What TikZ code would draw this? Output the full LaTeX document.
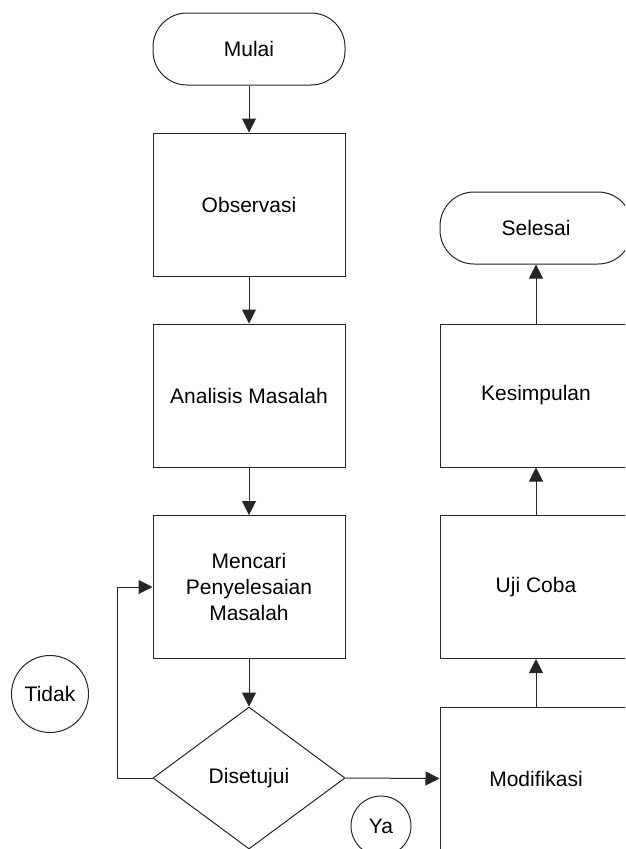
\documentclass[tikz,border=0pt]{standalone}
\usepackage{fontspec}
\setmainfont{Liberation Sans}
\usetikzlibrary{shapes.geometric,arrows.meta}
\begin{document}
\begin{tikzpicture}[x=1pt,y=-1pt,
  flow/.style={draw=black!85, line width=1pt},
  box/.style={flow, rectangle, minimum width=192pt, minimum height=143pt, inner sep=0pt, align=center},
  term/.style={flow, rectangle, rounded corners=34pt, minimum width=192pt, minimum height=72pt, inner sep=0pt},
  decision/.style={flow, diamond, minimum width=192pt, minimum height=142pt, inner sep=0pt},
  tag/.style={flow, circle, inner sep=0pt},
  link/.style={flow, -{Triangle[length=14pt,width=14pt]}},
  font=\fontsize{21}{26}\selectfont]
\useasboundingbox (0,0) rectangle (625,849);
\clip (0,0) rectangle (625,849);

% left column
\node[term] (mulai) at (249,49) {Mulai};
\node[box] (obs) at (249,204.5) {Observasi};
\node[box] (anl) at (249,395.5) {Analisis Masalah};
\node[box] (cari) at (249,587) {Mencari\\Penyelesaian\\Masalah};
\node[decision] (acc) at (249,778) {Disetujui};

% right column
\node[box] (mod) at (536,778.5) {Modifikasi};
\node[box] (uji) at (536,587) {Uji Coba};
\node[box] (kes) at (536,395.5) {Kesimpulan};
\node[term] (selesai) at (536,228) {Selesai};

% branch labels
\node[tag, minimum size=77pt] (tidak) at (50,694) {Tidak};
\node[tag, minimum size=60pt] (ya) at (381,826) {Ya};

% connectors
\draw[link] (mulai) -- (obs);
\draw[link] (obs) -- (anl);
\draw[link] (anl) -- (cari);
\draw[link] (cari) -- (acc);
\draw[link] (acc.west) -| ([xshift=-35pt]cari.west) -- (cari.west);
\draw[link] (acc.east) -- (mod.west);
\draw[link] (mod) -- (uji);
\draw[link] (uji) -- (kes);
\draw[link] (kes) -- (selesai);
\end{tikzpicture}
\end{document}
